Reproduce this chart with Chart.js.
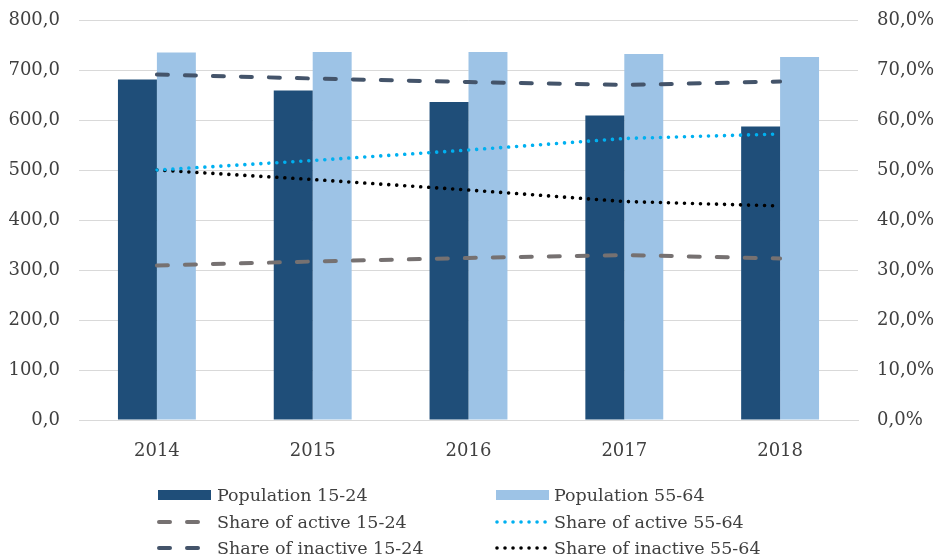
<!DOCTYPE html>
<html>
<head>
<meta charset="utf-8">
<script src="https://cdn.jsdelivr.net/npm/chart.js@4.4.0/dist/chart.umd.min.js"></script>
<style>
  html, body { margin: 0; padding: 0; background: #fff; }
  #wrap { width: 941px; height: 558px; position: relative; }
</style>
</head>
<body>
<div id="wrap"><canvas id="myChart"></canvas></div>
<script>
// years and population (thousands)
const years = ['2014', '2015', '2016', '2017', '2018'];
const pop1524 = [681, 659, 636, 609, 587];
const pop5564 = [735, 736, 736, 732, 726];

// shares in percent
const active1524 = [30.9, 31.7, 32.4, 33.0, 32.3];
const inactive1524 = [69.1, 68.3, 67.6, 67.0, 67.7];
const active5564 = [50.0, 51.9, 54.0, 56.3, 57.2];
const inactive5564 = [50.0, 48.1, 46.0, 43.7, 42.8];

const FONT = 'DejaVu Serif';
const TXT = '#404040';

function comma(v, d) { return v.toFixed(d).replace('.', ','); }

// fixed widths for the side axes, and no extra room above/below for labels
function sideFit(w) {
  return function(s) {
    s.width = w;
    s.paddingTop = 8;
    s.paddingBottom = 8;
  };
}

// two-column legend under the plot
const gridLegend = {
  id: 'gridLegend',
  afterDraw(chart) {
    const ctx = chart.ctx;
    const ds = chart.data.datasets;
    const cols = [{ sw: 157, tx: 217 }, { sw: 495, tx: 554 }];
    const rows = [495, 522, 548];
    ctx.save();
    ctx.font = '17.5px "' + FONT + '"';
    ctx.fillStyle = TXT;
    ctx.textBaseline = 'middle';
    ds.forEach((d, i) => {
      const c = cols[i % 2], y = rows[Math.floor(i / 2)];
      if (d.type === 'line') {
        ctx.save();
        ctx.strokeStyle = d.borderColor;
        ctx.lineWidth = d.borderWidth;
        ctx.lineCap = 'round';
        ctx.setLineDash(d.borderDash);
        ctx.beginPath();
        ctx.moveTo(c.sw + 2, y);
        ctx.lineTo(c.sw + 52, y);
        ctx.stroke();
        ctx.restore();
      } else {
        ctx.fillStyle = d.backgroundColor;
        ctx.fillRect(c.sw + 1, y - 5, 53, 10);
        ctx.fillStyle = TXT;
      }
      ctx.fillText(d.label, c.tx, y + 1);
    });
    ctx.restore();
  }
};

var ctx = document.getElementById('myChart').getContext('2d');
var myChart = new Chart(ctx, {
  type: 'bar',
  data: {
    labels: years,
    datasets: [{
      label: 'Population 15-24',
      data: pop1524,
      backgroundColor: '#1F4E79',
      yAxisID: 'y',
      order: 1
    }, {
      label: 'Population 55-64',
      data: pop5564,
      backgroundColor: '#9DC3E6',
      yAxisID: 'y',
      order: 1
    }, {
      type: 'line',
      label: 'Share of active 15-24',
      data: active1524,
      borderColor: '#767171',
      borderWidth: 4,
      borderDash: [11, 17],
      borderCapStyle: 'round',
      pointRadius: 0,
      yAxisID: 'y1',
      order: 0
    }, {
      type: 'line',
      label: 'Share of active 55-64',
      data: active5564,
      borderColor: '#00B0F0',
      borderWidth: 3.6,
      borderDash: [0.01, 8],
      borderCapStyle: 'round',
      pointRadius: 0,
      yAxisID: 'y1',
      order: 0
    }, {
      type: 'line',
      label: 'Share of inactive 15-24',
      data: inactive1524,
      borderColor: '#44546A',
      borderWidth: 4,
      borderDash: [11, 17],
      borderCapStyle: 'round',
      pointRadius: 0,
      yAxisID: 'y1',
      order: 0
    }, {
      type: 'line',
      label: 'Share of inactive 55-64',
      data: inactive5564,
      borderColor: '#000000',
      borderWidth: 3.6,
      borderDash: [0.01, 8],
      borderCapStyle: 'round',
      pointRadius: 0,
      yAxisID: 'y1',
      order: 0
    }]
  },
  options: {
    responsive: true,
    maintainAspectRatio: false,
    animation: false,
    datasets: { bar: { categoryPercentage: 0.5, barPercentage: 1.0 } },
    layout: { padding: { top: 20, bottom: 98, left: 0, right: 0 } },
    plugins: {
      legend: { display: false },
      tooltip: { enabled: false }
    },
    scales: {
      x: {
        grid: { display: false },
        border: { display: true, color: '#d9d9d9' },
        ticks: { color: TXT, font: { family: FONT, size: 18 }, padding: 13 },
        afterFit(s) { s.height = 40; }
      },
      y: {
        position: 'left',
        min: 0, max: 800,
        ticks: {
          stepSize: 100, color: TXT, padding: 19,
          font: { family: FONT, size: 18 },
          callback: v => comma(v, 1)
        },
        grid: { color: '#d9d9d9', drawTicks: false },
        border: { display: false },
        afterFit: sideFit(79)
      },
      y1: {
        position: 'right',
        min: 0, max: 80,
        ticks: {
          stepSize: 10, color: TXT, padding: 19,
          font: { family: FONT, size: 18 },
          callback: v => comma(v, 1) + '%'
        },
        grid: { display: false, drawTicks: false },
        border: { display: false },
        afterFit: sideFit(83)
      }
    }
  },
  plugins: [gridLegend]
});
</script>
</body>
</html>
